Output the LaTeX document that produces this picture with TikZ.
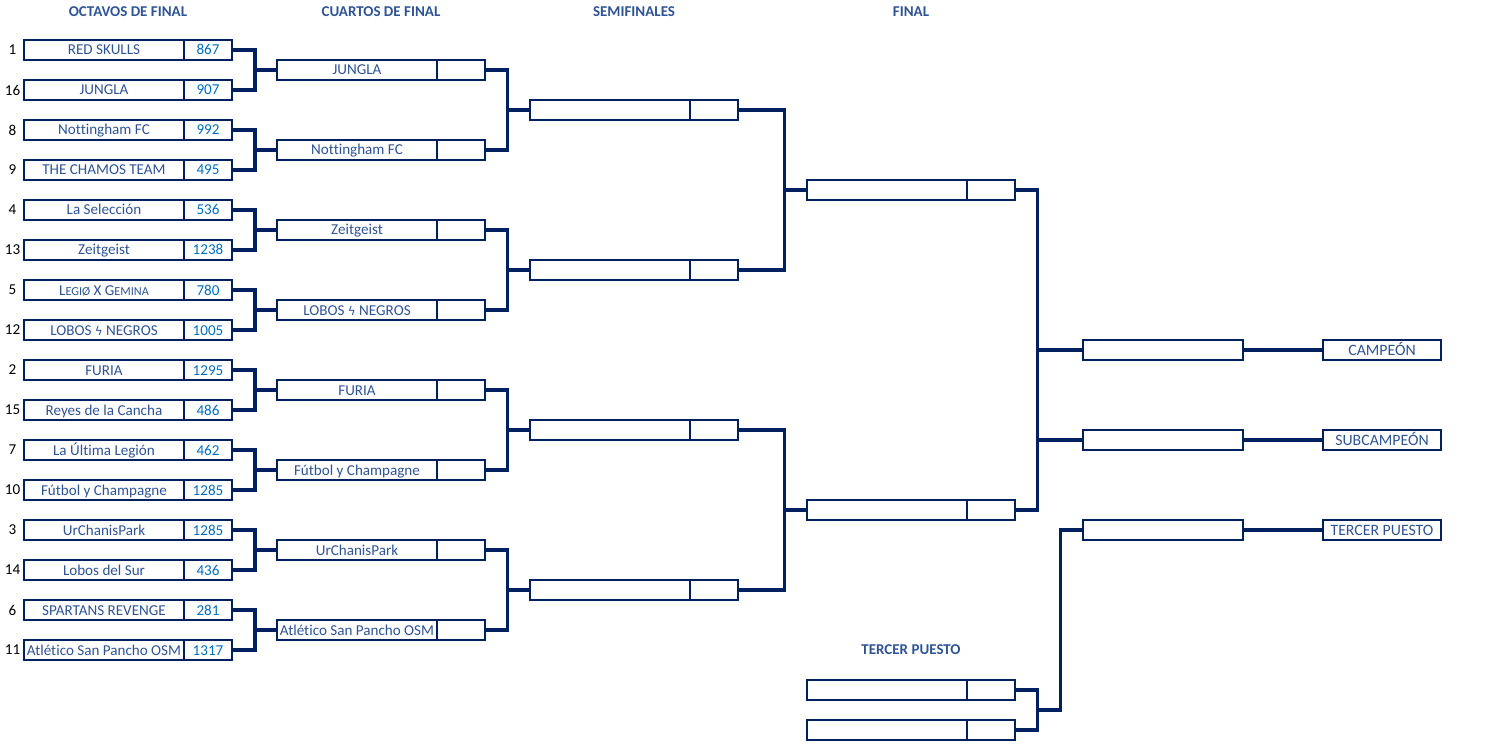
\documentclass[tikz,border=0pt]{standalone}
\usepackage{fontspec}
\setmainfont{Carlito}[Ligatures=NoCommon]
\newfontfamily\symfont{DejaVu Sans}
\definecolor{navy}{HTML}{002060}
\definecolor{teamc}{HTML}{2F5496}
\definecolor{scorec}{HTML}{0070C0}
\definecolor{hdrc}{HTML}{2F5496}
\tikzset{
  base/.style={draw=navy, line width=1.2pt, fill=white, inner sep=0pt, outer sep=0pt, minimum height=20pt, text height=10.8pt, text depth=0.8pt, font=\fontsize{15.1}{17}\selectfont},
  namebox/.style={base, minimum width=160pt, text=teamc, anchor=west},
  scorebox/.style={base, minimum width=48pt, text=scorec, anchor=west},
  labelbox/.style={base, minimum width=118pt, text=teamc, anchor=west, font=\fontsize{15.8}{17}\selectfont},
  seed/.style={font=\fontsize{15.1}{17}\selectfont, text=black, inner sep=0pt},
  hdr/.style={font=\fontsize{15}{17}\selectfont\bfseries, text=hdrc, inner sep=0pt},
  conn/.style={draw=navy, line width=3.2pt, line join=miter}
}
\newcommand\teambox[5]{%
  \node[namebox] (#1) at (#2,#3) {#4};
  \node[scorebox] (#1s) at (#1.east) {#5};}
\newcommand\smc[1]{{\fontsize{12.2}{17}\selectfont #1}}
\newcommand\koppa{{\symfont\fontsize{12}{17}\selectfont ϟ}}
\begin{document}
\begin{tikzpicture}[x=1pt,y=-1pt]
\useasboundingbox (0,0) rectangle (1488,751);
% headers
\node[hdr] (h1) at (128,12) {OCTAVOS DE FINAL};
\node[hdr] (h2) at (381,12) {CUARTOS DE FINAL};
\node[hdr] (h3) at (634,12) {SEMIFINALES};
\node[hdr] (h4) at (911,12) {FINAL};
\node[hdr] (h5) at (911,650) {TERCER PUESTO};
% seeds
\node[seed] (n1) at (12.5,50) {1};
\node[seed] (n16) at (12.5,90) {16};
\node[seed] (n8) at (12.5,130) {8};
\node[seed] (n9) at (12.5,170) {9};
\node[seed] (n4) at (12.5,210) {4};
\node[seed] (n13) at (12.5,250) {13};
\node[seed] (n5) at (12.5,290) {5};
\node[seed] (n12) at (12.5,330) {12};
\node[seed] (n2) at (12.5,370) {2};
\node[seed] (n15) at (12.5,410) {15};
\node[seed] (n7) at (12.5,450) {7};
\node[seed] (n10) at (12.5,490) {10};
\node[seed] (n3) at (12.5,530) {3};
\node[seed] (n14) at (12.5,570) {14};
\node[seed] (n6) at (12.5,610) {6};
\node[seed] (n11) at (12.5,650) {11};
% round of 16
\teambox{o1}{24}{50}{RED SKULLS}{867}
\teambox{o2}{24}{90}{JUNGLA}{907}
\teambox{o3}{24}{130}{Nottingham FC}{992}
\teambox{o4}{24}{170}{THE CHAMOS TEAM}{495}
\teambox{o5}{24}{210}{La Selección}{536}
\teambox{o6}{24}{250}{Zeitgeist}{1238}
\teambox{o7}{24}{290}{L\smc{EGIØ} X G\smc{EMINA}}{780}
\teambox{o8}{24}{330}{LOBOS \koppa{} NEGROS}{1005}
\teambox{o9}{24}{370}{FURIA}{1295}
\teambox{o10}{24}{410}{Reyes de la Cancha}{486}
\teambox{o11}{24}{450}{La Última Legión}{462}
\teambox{o12}{24}{490}{Fútbol y Champagne}{1285}
\teambox{o13}{24}{530}{UrChanisPark}{1285}
\teambox{o14}{24}{570}{Lobos del Sur}{436}
\teambox{o15}{24}{610}{SPARTANS REVENGE}{281}
\teambox{o16}{24}{650}{Atlético San Pancho OSM}{1317}
% quarters
\teambox{q1}{277}{70}{JUNGLA}{}
\teambox{q2}{277}{150}{Nottingham FC}{}
\teambox{q3}{277}{230}{Zeitgeist}{}
\teambox{q4}{277}{310}{LOBOS \koppa{} NEGROS}{}
\teambox{q5}{277}{390}{FURIA}{}
\teambox{q6}{277}{470}{Fútbol y Champagne}{}
\teambox{q7}{277}{550}{UrChanisPark}{}
\teambox{q8}{277}{630}{Atlético San Pancho OSM}{}
% semis
\teambox{s1}{530}{110}{}{}
\teambox{s2}{530}{270}{}{}
\teambox{s3}{530}{430}{}{}
\teambox{s4}{530}{590}{}{}
% final
\teambox{f1}{807}{190}{}{}
\teambox{f2}{807}{510}{}{}
% third place
\teambox{t1}{807}{690}{}{}
\teambox{t2}{807}{730}{}{}
% results
\node[namebox] (w1) at (1083,350) {};
\node[namebox] (w2) at (1083,440) {};
\node[namebox] (w3) at (1083,530) {};
\node[labelbox] (l1) at (1323,350) {CAMPEÓN};
\node[labelbox] (l2) at (1323,440) {SUBCAMPEÓN};
\node[labelbox] (l3) at (1323,530) {TERCER PUESTO};
% junctions
\coordinate (a1) at (255,70);
\coordinate (a2) at (255,150);
\coordinate (a3) at (255,230);
\coordinate (a4) at (255,310);
\coordinate (a5) at (255,390);
\coordinate (a6) at (255,470);
\coordinate (a7) at (255,550);
\coordinate (a8) at (255,630);
\coordinate (b1) at (507.5,110);
\coordinate (b2) at (507.5,270);
\coordinate (b3) at (507.5,430);
\coordinate (b4) at (507.5,590);
\coordinate (c1) at (784.5,190);
\coordinate (c2) at (784.5,510);
\coordinate (d1) at (1037.5,350);
\coordinate (d2) at (1037.5,440);
\coordinate (e1) at (1037.5,710);
\coordinate (e2) at (1060.5,710);
% connectors
\foreach \i/\a/\b in {1/1/2,2/3/4,3/5/6,4/7/8,5/9/10,6/11/12,7/13/14,8/15/16}{
  \draw[conn] (o\a s.east) -| (a\i) |- (o\b s.east);
  \draw[conn] (a\i) -- (q\i.west);
}
\foreach \i/\a/\b in {1/1/2,2/3/4,3/5/6,4/7/8}{
  \draw[conn] (q\a s.east) -| (b\i) |- (q\b s.east);
  \draw[conn] (b\i) -- (s\i.west);
}
\foreach \i/\a/\b in {1/1/2,2/3/4}{
  \draw[conn] (s\a s.east) -| (c\i) |- (s\b s.east);
  \draw[conn] (c\i) -- (f\i.west);
}
\draw[conn] (f1s.east) -| (d1) -- (d2) |- (f2s.east);
\draw[conn] (d1) -- (w1.west);
\draw[conn] (d2) -- (w2.west);
\draw[conn] (t1s.east) -| (e1) |- (t2s.east);
\draw[conn] (e1) -- (e2) |- (w3.west);
\draw[conn] (w1.east) -- (l1.west);
\draw[conn] (w2.east) -- (l2.west);
\draw[conn] (w3.east) -- (l3.west);
\end{tikzpicture}
\end{document}
